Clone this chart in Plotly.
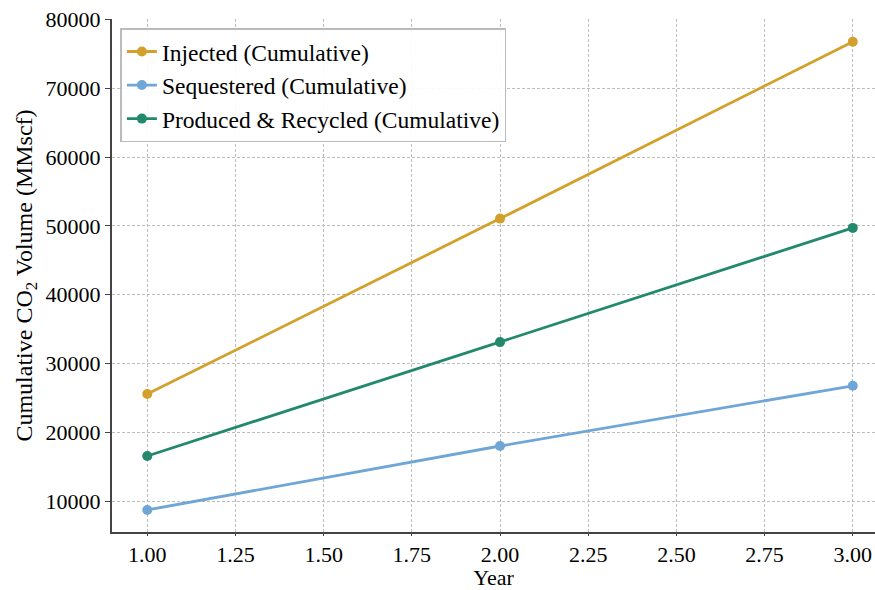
import plotly.graph_objects as go

years = [1.0, 2.0, 3.0]
injected = [25550, 51050, 76750]
sequestered = [8700, 18000, 26750]
produced = [16550, 33100, 49700]

series_names = ["Injected (Cumulative)", "Sequestered (Cumulative)", "Produced & Recycled (Cumulative)"]
series_colors = ["#D4A02C", "#6FA6D6", "#23896C"]
x_ticks = [1.0, 1.25, 1.5, 1.75, 2.0, 2.25, 2.5, 2.75, 3.0]
y_ticks = [10000, 20000, 30000, 40000, 50000, 60000, 70000, 80000]

font_family = "Liberation Serif, Times New Roman, serif"

fig = go.Figure()
for name, vals, col in zip(series_names, [injected, sequestered, produced], series_colors):
    fig.add_trace(go.Scatter(
        x=years, y=vals, name=name, mode="lines+markers",
        line=dict(color=col, width=2.8),
        marker=dict(color=col, size=10),
    ))

fig.update_layout(
    width=875, height=590,
    margin=dict(l=112, r=0, t=19, b=58, autoexpand=False),
    paper_bgcolor="white", plot_bgcolor="white",
    font=dict(family=font_family, size=22, color="black"),
    showlegend=True,
    legend=dict(
        x=0.011, y=0.982, xanchor="left", yanchor="top",
        bgcolor="rgba(255,255,255,0.9)", bordercolor="#bbbbbb", borderwidth=1.5,
        font=dict(family=font_family, size=23.5, color="black"),
        tracegroupgap=0, itemwidth=30,
    ),
)

fig.update_xaxes(
    range=[0.9, 3.063], tickvals=x_ticks, ticktext=[f"{v:.2f}" for v in x_ticks],
    showgrid=True, gridcolor="#bdbdbd", gridwidth=1, griddash="3px,2px",
    showline=True, linecolor="#444444", linewidth=2, mirror=False,
    ticks="outside", ticklen=2, tickcolor="#444444",
    zeroline=False, automargin=False, ticklabeloverflow="allow",
    title=dict(text="Year", font=dict(size=22), standoff=5),
    tickfont=dict(size=22),
)
fig.update_yaxes(
    range=[5500, 80060], tickvals=y_ticks, ticktext=[str(v) for v in y_ticks],
    showgrid=True, gridcolor="#bdbdbd", gridwidth=1, griddash="3px,2px",
    showline=True, linecolor="#444444", linewidth=2, mirror=False,
    ticks="outside", ticklen=5, tickcolor="#444444",
    zeroline=False, automargin=False, ticklabeloverflow="allow",
    title=dict(text="Cumulative CO<sub>2</sub> Volume (MMscf)", font=dict(size=24), standoff=6),
    tickfont=dict(size=22),
)

fig.write_html(
    "out.html",
    config={"displayModeBar": False},
    post_script="document.body.style.margin='0';document.body.style.overflow='hidden';",
)
